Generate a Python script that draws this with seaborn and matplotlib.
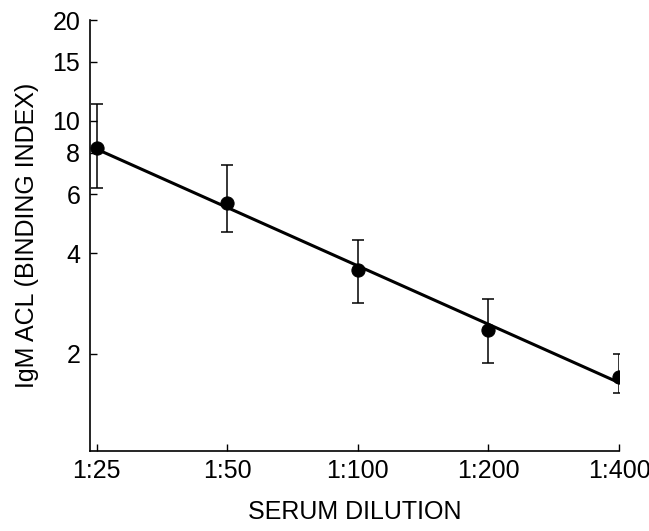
import numpy as np
import pandas as pd
import matplotlib
matplotlib.use('Agg')
import matplotlib.pyplot as plt
import seaborn as sns
from matplotlib.ticker import FixedLocator, FixedFormatter, NullLocator

# data
dilutions = ['1:25', '1:50', '1:100', '1:200', '1:400']
binding_index = [8.25, 5.64, 3.55, 2.35, 1.70]
err_upper = [11.2, 7.34, 4.37, 2.92, 1.99]
err_lower = [6.26, 4.62, 2.84, 1.87, 1.52]
y_ticks = [2, 4, 6, 8, 10, 15, 20]

def main():
    sns.set_theme(style='ticks')
    plt.rcParams['font.family'] = ['Liberation Sans', 'DejaVu Sans']

    pos = np.arange(len(dilutions))
    df = pd.DataFrame({'pos': pos, 'bi': binding_index})

    # log-linear fit through the means
    slope, icpt = np.polyfit(pos, np.log10(binding_index), 1)
    fit = pd.DataFrame({'pos': pos, 'bi': 10 ** (icpt + slope * pos)})

    fig = plt.figure(figsize=(6.49, 5.31), dpi=100)
    ax = fig.add_axes([0.1387, 0.1507, 0.954 - 0.1387, 0.962 - 0.1507])

    sns.lineplot(data=fit, x='pos', y='bi', color='black', lw=2.2, ax=ax)
    yerr = [np.array(binding_index) - np.array(err_lower),
            np.array(err_upper) - np.array(binding_index)]
    ax.errorbar(pos, binding_index, yerr=yerr, fmt='none', ecolor='black',
                elinewidth=1.1, capsize=4, capthick=1.1)
    sns.scatterplot(data=df, x='pos', y='bi', color='black', s=90,
                    edgecolor='black', zorder=5, ax=ax)

    ax.set_yscale('log')
    ax.set_ylim(1.02, 20)
    ax.set_xlim(-0.05, 4.0)
    ax.yaxis.set_major_locator(FixedLocator(y_ticks))
    ax.yaxis.set_major_formatter(FixedFormatter([str(t) for t in y_ticks]))
    ax.yaxis.set_minor_locator(NullLocator())
    ax.set_xticks(pos)
    ax.set_xticklabels(dilutions)

    ax.tick_params(axis='both', direction='in', length=5, width=1,
                   labelsize=18, colors='black')
    ax.tick_params(axis='y', pad=7)
    ax.tick_params(axis='x', pad=6)
    for s in ['top', 'right']:
        ax.spines[s].set_visible(False)
    for s in ['left', 'bottom']:
        ax.spines[s].set_color('black')
        ax.spines[s].set_linewidth(1.2)

    ax.set_xlabel('SERUM DILUTION', fontsize=18, labelpad=12, color='black')
    ax.set_ylabel('IgM ACL (BINDING INDEX)', fontsize=18, labelpad=10, color='black')

    fig.savefig('out.png', dpi=100)
    plt.close(fig)

if __name__ == "__main__":
    main()
